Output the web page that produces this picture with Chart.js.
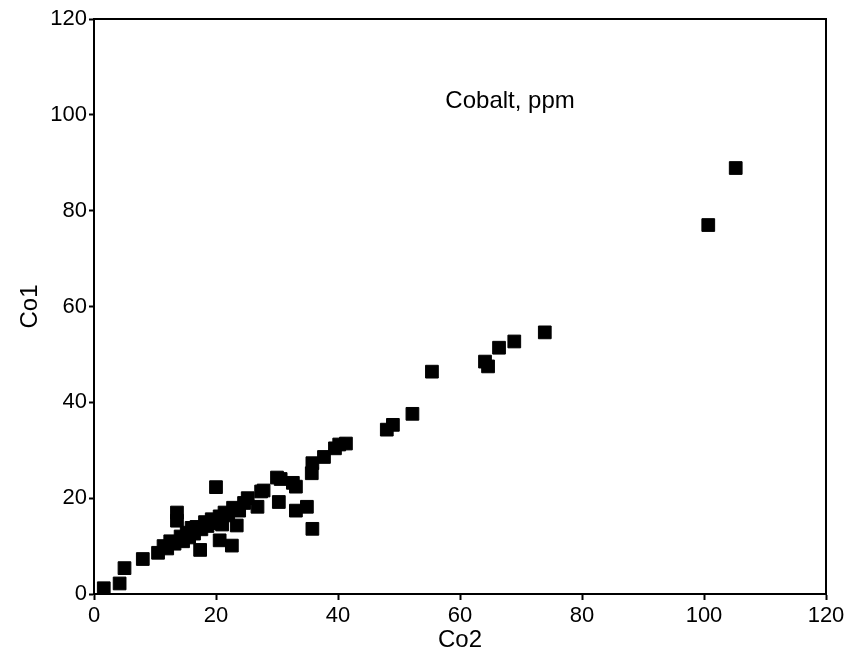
<!DOCTYPE html>
<html>
<head>
<meta charset="utf-8">
<script src="https://cdn.jsdelivr.net/npm/chart.js@4.4.0/dist/chart.umd.min.js"></script>
<style>
    body { margin: 0; background: #fff; }
    #wrap { width: 854px; height: 658px; }
</style>
</head>
<body>
<div id="wrap"><canvas id="myChart"></canvas></div>
<script>
// Co2 (x) vs Co1 (y), cobalt in ppm
const co2 = [1.6, 4.2, 5.0, 8.0, 10.5, 11.4, 12.0, 12.5, 13.2, 13.6, 13.6, 14.2, 14.6, 15.2, 15.6, 16.0,
    16.4, 16.8, 17.4, 17.6, 18.2, 18.6, 19.3, 19.8, 20.0, 20.6, 20.6, 21.0, 21.4, 22.0, 22.6, 22.8,
    23.4, 23.8, 24.6, 25.2, 26.8, 27.4, 27.8, 30.0, 30.3, 30.6, 32.6, 33.1, 33.1, 34.9, 35.8, 35.7,
    35.8, 37.7, 39.5, 40.2, 41.3, 48.0, 49.0, 52.2, 55.4, 64.1, 64.6, 66.4, 68.9, 73.9, 100.7, 105.2];
const co1 = [1.2, 2.2, 5.4, 7.3, 8.6, 10.0, 9.5, 11.0, 10.5, 15.3, 17.0, 12.0, 11.0, 12.8, 11.8, 13.8,
    12.6, 14.0, 9.2, 13.5, 15.0, 14.2, 15.6, 14.8, 22.3, 11.2, 16.2, 14.5, 17.0, 16.4, 10.1, 18.0,
    14.3, 17.4, 19.0, 20.0, 18.2, 21.4, 21.6, 24.3, 19.2, 24.0, 23.2, 22.4, 17.4, 18.2, 13.6, 25.2,
    27.3, 28.6, 30.4, 31.2, 31.4, 34.3, 35.3, 37.6, 46.4, 48.5, 47.5, 51.4, 52.7, 54.6, 77.0, 88.9];
const tickValues = [0, 20, 40, 60, 80, 100, 120];
const noteText = 'Cobalt, ppm';

const points = co2.map((x, i) => {
    return {x: x, y: co1[i]};
});

const fontFamily = '"Liberation Sans", Arial, sans-serif';

// frame round the plot and the note inside it
const boxPlugin = {
    id: 'boxPlugin',
    afterDraw(chart) {
        const ctx = chart.ctx;
        const a = chart.chartArea;
        ctx.save();
        ctx.strokeStyle = '#000';
        ctx.lineWidth = 2;
        ctx.strokeRect(a.left, a.top, a.right - a.left, a.bottom - a.top);
        ctx.fillStyle = '#000';
        ctx.font = '24px ' + fontFamily;
        ctx.textBaseline = 'middle';
        ctx.fillText(noteText, chart.scales.x.getPixelForValue(57.6), chart.scales.y.getPixelForValue(102.8));
        ctx.restore();
    }
};

new Chart(document.getElementById('myChart'), {
    type: 'scatter',
    data: {
        datasets: [{
            label: noteText,
            data: points,
            pointStyle: 'rect',
            pointRadius: 9,
            pointHoverRadius: 9,
            backgroundColor: '#000',
            borderColor: '#000',
            borderWidth: 1
        }]
    },
    options: {
        responsive: true,
        maintainAspectRatio: false,
        animation: false,
        layout: {
            padding: {left: 0, top: 19, right: 28, bottom: 0}
        },
        plugins: {
            legend: {display: false},
            tooltip: {enabled: false}
        },
        scales: {
            x: {
                type: 'linear',
                min: 0,
                max: 120,
                afterBuildTicks: (scale) => {
                    scale.ticks = tickValues.map(v => ({value: v}));
                },
                afterFit: (scale) => {
                    scale.height = 64;
                },
                grid: {display: true, drawOnChartArea: false, drawTicks: true, tickLength: 6, tickWidth: 2, tickColor: '#000'},
                border: {display: true, color: '#000', width: 2},
                ticks: {color: '#000', padding: 3, maxRotation: 0, font: {family: fontFamily, size: 22}},
                title: {display: true, text: 'Co2', color: '#000', padding: {top: 0, bottom: 3}, font: {family: fontFamily, size: 24}}
            },
            y: {
                type: 'linear',
                min: 0,
                max: 120,
                afterBuildTicks: (scale) => {
                    scale.ticks = tickValues.map(v => ({value: v}));
                },
                afterFit: (scale) => {
                    scale.width = 94;
                },
                grid: {display: true, drawOnChartArea: false, drawTicks: true, tickLength: 5, tickWidth: 2, tickColor: '#000'},
                border: {display: true, color: '#000', width: 2},
                ticks: {color: '#000', padding: 2, font: {family: fontFamily, size: 22}},
                title: {display: true, text: 'Co1', color: '#000', padding: {top: 16, bottom: 0}, font: {family: fontFamily, size: 24}}
            }
        }
    },
    plugins: [boxPlugin]
});
</script>
</body>
</html>
